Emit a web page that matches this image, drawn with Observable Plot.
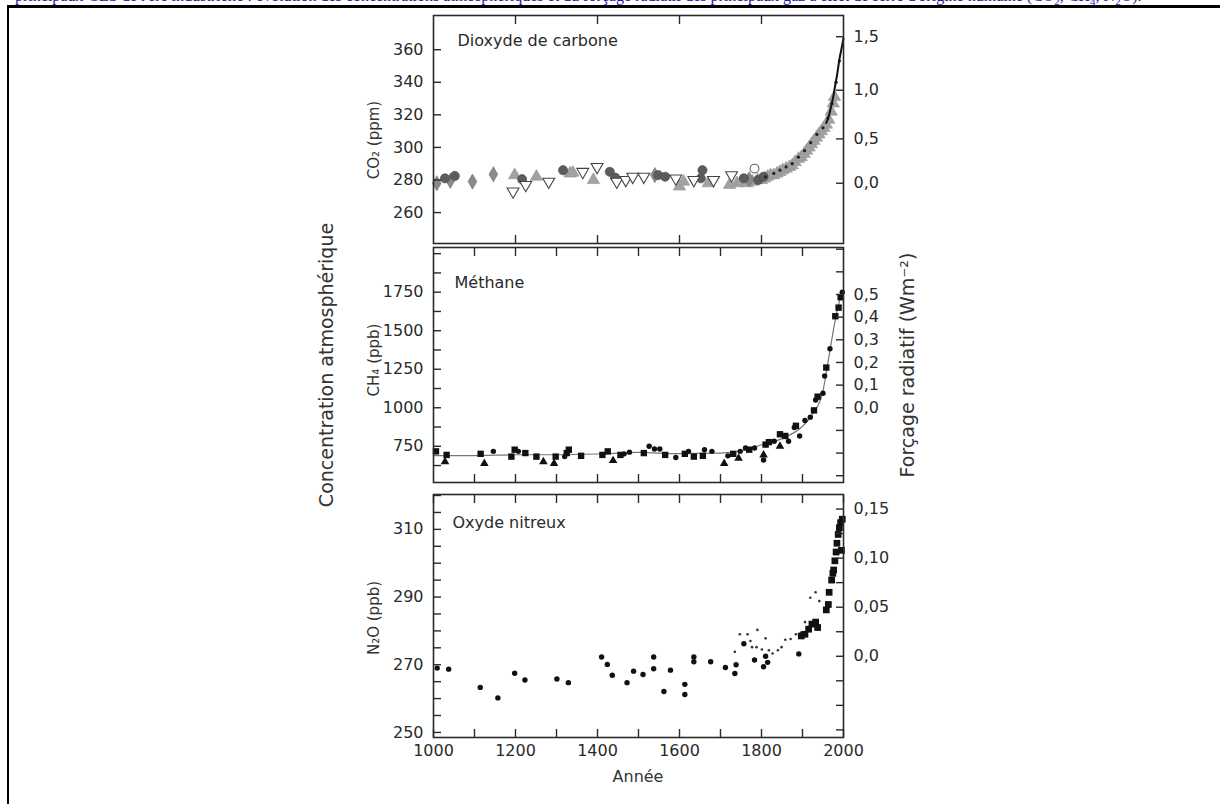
<!DOCTYPE html>
<html><head><meta charset="utf-8">
<script src="https://cdn.jsdelivr.net/npm/d3@7"></script>
<script src="https://cdn.jsdelivr.net/npm/@observablehq/plot@0.6"></script>
<style>
html,body{margin:0;padding:0;background:#fff;}
#page{position:relative;width:1220px;height:804px;overflow:hidden;background:#fff;}
#caption{position:absolute;left:15px;top:-13px;font:16px "Liberation Serif",serif;color:#1c1ca6;white-space:nowrap;line-height:18px;}
#btop{position:absolute;left:7px;top:5px;width:1213px;height:3px;background:#000;}
#bleft{position:absolute;left:7px;top:5px;width:2px;height:799px;background:#000;}
.lab{position:absolute;font-family:"DejaVu Sans",sans-serif;color:#333;white-space:nowrap;transform:translate(-50%,-50%);}
.rot{transform:translate(-50%,-50%) rotate(-90deg);}
</style></head>
<body><div id="page">
<div id="caption">principaux GES de l'ère industrielle : évolution des concentrations atmosphériques et du forçage radiatif des principaux gaz à effet de serre d'origine humaine (CO<sub style="font-size:11px">2</sub>, CH<sub style="font-size:11px">4</sub>, N<sub style="font-size:11px">2</sub>O).</div>
<div id="btop"></div><div id="bleft"></div>
</div>
<script>
// ---------- texts ----------
const panelTitles = ["Dioxyde de carbone", "Méthane", "Oxyde nitreux"];
const yLabels = ["CO₂  (ppm)", "CH₄  (ppb)", "N₂O  (ppb)"];
const leftTitle = "Concentration atmosphérique";
const rightTitle = "Forçage radiatif  (Wm⁻²)";
const xTitle = "Année";

// ---------- CO2 (ppm) ----------
const co2DarkCircles = [[1028,281],[1052,282.5],[1216,280.5],[1316,286],[1430,285],[1443,281.5],[1548,283],[1565,282],[1652,281],[1656,286],[1757,281],[1792,280],[1805,282]];
const co2Diamonds = [[1008,278],[1041,279.5],[1095,279],[1146,283.5],[1540,283],[1770,280.5]];
const co2GrayTriangles = [[1198,283],[1251,282],[1333,284],[1340,284.5],[1390,280],[1600,276],[1610,279],[1670,278],[1722,277],[1740,278],[1750,279],[1765,278],[1778,279],[1790,280],
  [1800,280],[1808,281],[1815,282],[1822,283],[1830,283],[1838,284],[1845,285],[1852,286],[1860,287],[1868,288],[1875,289],[1882,291],[1890,293],[1897,294],[1904,296],[1910,298],[1916,300],[1922,302],[1928,304],[1934,306],[1940,308],[1946,310],[1952,312],[1958,314],[1964,317],[1970,322],[1975,327],[1978,331]];
const co2OpenDownTriangles = [[1194,273],[1225,277],[1281,279],[1364,285],[1399,288],[1447,279],[1469,280],[1486,282],[1513,282],[1591,281],[1635,280],[1683,280],[1727,283]];
const co2OpenCircles = [[1783,287]];
const co2BlackDots = [[1810,282],[1830,284],[1845,286],[1860,288],[1875,290],[1890,294],[1905,298],[1920,303],[1935,308],[1950,312],[1962,318],[1972,327],[1982,340],[1990,353]];
const co2Line = [[1958,315],[1965,320],[1970,325.5],[1975,331],[1980,338.5],[1985,345.5],[1990,354],[1995,360.5],[2000,367]];
const co2LeftTicks = [260,280,300,320,340,360];
const co2ForcingTicks = [0, 0.5, 1.0, 1.5];
const co2ForcingLabels = ["0,0","0,5","1,0","1,5"];

// ---------- CH4 (ppb) ----------
const ch4Squares = [[1006,717],[1032,694],[1115,701],[1190,683],[1198,728],[1224,706],[1251,683],[1298,683],[1325,706],[1330,728],[1360,688],[1412,694],[1425,717],[1456,694],[1513,706],[1565,694],[1613,701],[1635,683],[1657,688],[1731,701],[1770,728],[1810,761],[1818,777],[1845,828],[1858,817],[1884,883],[1928,983],[1937,1072],[1958,1261],[1980,1594],[1988,1650],[1993,1717]];
const ch4Dots = [[1146,717],[1207,717],[1320,683],[1465,701],[1478,712],[1526,750],[1539,732],[1552,732],[1591,677],[1622,717],[1661,728],[1679,717],[1718,688],[1748,717],[1761,739],[1783,739],[1805,661],[1831,783],[1866,783],[1880,872],[1893,817],[1906,917],[1919,939],[1932,1050],[1950,1094],[1954,1206],[1967,1383],[1997,1750]];
const ch4Triangles = [[1028,650],[1124,639],[1268,650],[1294,639],[1438,657],[1709,639],[1744,672],[1805,694],[1845,750]];
const ch4Smooth = [[1000,690],[1100,690],[1200,695],[1300,695],[1400,700],[1500,710],[1600,702],[1700,705],[1750,720],[1800,760],[1850,800],[1900,880],[1925,960],[1950,1110],[1960,1260],[1970,1420],[1980,1570],[1990,1690],[2000,1750]];
const ch4LeftTicks = [625,750,875,1000,1125,1250,1375,1500,1625,1750,1875,2000];
const ch4LeftLabels = [750,1000,1250,1500,1750];
const ch4ForcingTicks = [-0.3,-0.2,-0.1,0,0.1,0.2,0.3,0.4,0.5,0.6,0.7];
const ch4ForcingLabels = {"0":"0,0","0.1":"0,1","0.2":"0,2","0.3":"0,3","0.4":"0,4","0.5":"0,5"};

// ---------- N2O (ppb) ----------
const n2oDots = [[1009,269],[1037,268.7],[1114,263.3],[1157,260.2],[1198,267.5],[1223,265.5],[1301,265.8],[1329,264.7],[1410,272.3],[1424,270.1],[1436,266.9],[1472,264.7],[1488,268.1],[1511,267.1],[1537,272.3],[1537,268.8],[1562,262.1],[1578,268.4],[1613,264.2],[1613,261.2],[1635,272.3],[1635,270.9],[1676,270.9],[1712,269.2],[1738,270],[1735,267.4],[1757,276.2],[1783,271.4],[1805,269.4],[1810,272.5],[1815,270.7],[1891,273.2]];
const n2oSmall = [[1735,273.8],[1747,279],[1766,279],[1773,277],[1790,280.3],[1777,275.2],[1788,275.2],[1801,274.5],[1810,277.8],[1818,274.3],[1827,273.3],[1840,274.3],[1849,275.2],[1858,277.4],[1871,277.6],[1884,279],[1897,279.5],[1906,282.6],[1919,289.8],[1932,291.4],[1941,288.8]];
const n2oSquares = [[1897,278.5],[1906,279],[1915,280.5],[1923,282],[1932,282.6],[1937,281],[1958,286.2],[1963,287.8],[1965,291.4],[1971,295],[1974,297],[1976,298],[1979,300.7],[1982,303.3],[1984,305.9],[1987,308.5],[1990,310.5],[1993,312],[1995,303.8],[1997,313]];
const n2oLeftTicks = d3.range(250, 321, 5);
const n2oLeftLabels = [250,270,290,310];
const n2oForcingTicks = [-0.075,-0.05,-0.025,0,0.025,0.05,0.075,0.1,0.125,0.15];
const n2oForcingLabels = {"0":"0,0","0.05":"0,05","0.1":"0,10","0.15":"0,15"};

const xLabels = [1000,1200,1400,1600,1800,2000];

// ---------- helpers ----------
const co2FromF = f => 278 * Math.exp(f / 5.35);      // CO2 forcing -> ppm
const ch4FromF = f => 1000 + f * 1470;                // as drawn on the right axis
const n2oFromF = f => 272.5 + f * 290;
const key = f => String(Math.round(f * 1000) / 1000);

const triangleDown = {draw(ctx, size) {
  const y = -Math.sqrt(size / (Math.sqrt(3) * 3));
  ctx.moveTo(0, -y * 2); ctx.lineTo(-Math.sqrt(3) * y, y); ctx.lineTo(Math.sqrt(3) * y, y); ctx.closePath();
}};

const W = 1220, H = 804, FL = 433, FR = 843;
const INK = "#2a2a2a";

function inDomain(arr, dom) { return arr.filter(v => v >= Math.min(...dom) - 1e-9 && v <= Math.max(...dom) + 1e-9); }

function panel({top, bottom, yDomain, xTicks, xLabelsShown, leftTicks, leftLabelFn, rightTicks, rightLabelFn, title, titleDx, titleDy, marks}) {
  const svg = Plot.plot({
    width: W, height: H,
    marginLeft: FL, marginRight: W - FR, marginTop: top, marginBottom: H - bottom,
    x: {domain: [1000, 2000]},
    y: {domain: yDomain},
    style: {background: "transparent", fontFamily: "'DejaVu Sans', sans-serif", fontSize: "16px", color: INK, overflow: "visible"},
    marks: [
      ...marks,
      Plot.axisX(xTicks, {anchor: "top", tickSize: -8, tickFormat: () => "", label: null, strokeWidth: 1.4}),
      Plot.axisX(xTicks, {anchor: "bottom", tickSize: -8, tickPadding: 15, label: null, strokeWidth: 1.4,
        tickFormat: d => (xLabelsShown && xLabels.includes(d)) ? String(d) : ""}),
      Plot.axisY(inDomain(leftTicks, yDomain), {anchor: "left", tickSize: -8, tickPadding: 18, label: null, strokeWidth: 1.4, tickFormat: leftLabelFn}),
      Plot.axisY(inDomain(rightTicks, yDomain), {anchor: "right", tickSize: -8, tickPadding: 18, label: null, strokeWidth: 1.4, tickFormat: rightLabelFn}),
      Plot.text([title], {frameAnchor: "top-left", dx: titleDx, dy: titleDy, textAnchor: "start", lineAnchor: "top", fontSize: 16, fill: INK}),
      Plot.frame({stroke: INK, strokeWidth: 1.6})
    ]
  });
  svg.style.position = "absolute"; svg.style.left = "0px"; svg.style.top = "0px";
  return svg;
}

const page = document.getElementById("page");

// CO2 panel
const co2RightMap = new Map(co2ForcingTicks.map((f, i) => [co2FromF(f), co2ForcingLabels[i]]));
page.appendChild(panel({
  top: 15, bottom: 243, yDomain: [241, 381],
  xTicks: [1200,1400,1600,1800],
  xLabelsShown: false,
  leftTicks: co2LeftTicks, leftLabelFn: d => String(d),
  rightTicks: co2ForcingTicks.map(co2FromF), rightLabelFn: d => co2RightMap.get(d) ?? "",
  title: panelTitles[0], titleDx: 24, titleDy: 19,
  marks: [
    Plot.dot(co2GrayTriangles, {x: d => d[0], y: d => d[1], symbol: "triangle", r: 4.6, fill: "#a2a2a2", stroke: "#969696", strokeWidth: 0.6}),
    Plot.dot(co2Diamonds, {x: d => d[0], y: d => d[1], symbol: "diamond", r: 4.6, fill: "#8a8a8a", stroke: "#707070", strokeWidth: 0.6}),
    Plot.dot(co2DarkCircles, {x: d => d[0], y: d => d[1], symbol: "circle", r: 4.6, fill: "#5c5c5c", stroke: "#4a4a4a", strokeWidth: 0.6}),
    Plot.dot(co2OpenDownTriangles, {x: d => d[0], y: d => d[1], symbol: triangleDown, r: 4.4, fill: "white", stroke: "#444", strokeWidth: 1.1}),
    Plot.dot(co2OpenCircles, {x: d => d[0], y: d => d[1], symbol: "circle", r: 4.4, fill: "white", stroke: "#666", strokeWidth: 1.1}),
    Plot.dot(co2BlackDots, {x: d => d[0], y: d => d[1], r: 1.6, fill: "#222"}),
    Plot.line(co2Line, {x: d => d[0], y: d => d[1], stroke: "#111", strokeWidth: 2, curve: "monotone-x"})
  ]
}));

// CH4 panel
const ch4RightMap = new Map(ch4ForcingTicks.map(f => [ch4FromF(f), ch4ForcingLabels[key(f)] ?? ""]));
page.appendChild(panel({
  top: 247, bottom: 482, yDomain: [515, 2040],
  xTicks: d3.range(1100, 2000, 100),
  xLabelsShown: false,
  leftTicks: ch4LeftTicks, leftLabelFn: d => ch4LeftLabels.includes(d) ? String(d) : "",
  rightTicks: ch4ForcingTicks.map(ch4FromF), rightLabelFn: d => ch4RightMap.get(d) ?? "",
  title: panelTitles[1], titleDx: 21, titleDy: 29,
  marks: [
    Plot.line(ch4Smooth, {x: d => d[0], y: d => d[1], stroke: "#777", strokeWidth: 1.2, curve: "monotone-x"}),
    Plot.dot(ch4Triangles, {x: d => d[0], y: d => d[1], symbol: "triangle", r: 3.2, fill: "#111"}),
    Plot.dot(ch4Squares, {x: d => d[0], y: d => d[1], symbol: "square", r: 3.6, fill: "#111"}),
    Plot.dot(ch4Dots, {x: d => d[0], y: d => d[1], symbol: "circle", r: 2.7, fill: "#111"})
  ]
}));

// N2O panel
const n2oRightMap = new Map(n2oForcingTicks.map(f => [n2oFromF(f), n2oForcingLabels[key(f)] ?? ""]));
page.appendChild(panel({
  top: 494, bottom: 737, yDomain: [248.5, 320.3],
  xTicks: d3.range(1000, 2001, 100),
  xLabelsShown: true,
  leftTicks: n2oLeftTicks, leftLabelFn: d => n2oLeftLabels.includes(d) ? String(d) : "",
  rightTicks: n2oForcingTicks.map(n2oFromF), rightLabelFn: d => n2oRightMap.get(d) ?? "",
  title: panelTitles[2], titleDx: 19, titleDy: 22,
  marks: [
    Plot.dot(n2oSmall, {x: d => d[0], y: d => d[1], r: 1.3, fill: "#333"}),
    Plot.dot(n2oDots, {x: d => d[0], y: d => d[1], r: 2.7, fill: "#111"}),
    Plot.dot(n2oSquares, {x: d => d[0], y: d => d[1], symbol: "square", r: 3.8, fill: "#111"})
  ]
}));

// side labels (HTML text)
function addLabel(text, cx, cy, size, rotate) {
  const d = document.createElement("div");
  d.className = "lab" + (rotate ? " rot" : "");
  d.textContent = text;
  d.style.left = cx + "px"; d.style.top = cy + "px"; d.style.fontSize = size + "px";
  page.appendChild(d);
}
addLabel(yLabels[0], 374, 140, 15, true);
addLabel(yLabels[1], 374, 360, 15, true);
addLabel(yLabels[2], 374, 618, 15, true);
addLabel(leftTitle, 326, 365, 19, true);
addLabel(rightTitle, 907, 365, 19, true);
addLabel(xTitle, 638, 776, 16, false);
</script>
</body></html>
